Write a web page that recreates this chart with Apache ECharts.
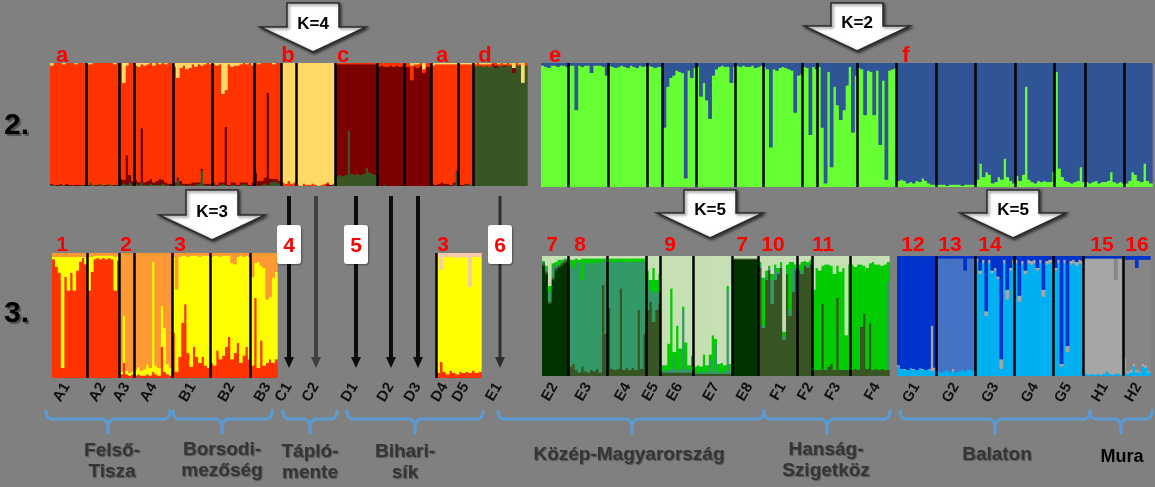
<!DOCTYPE html>
<html><head><meta charset="utf-8">
<script src="https://cdn.jsdelivr.net/npm/echarts@6/dist/echarts.min.js"></script>
<style>html,body{margin:0;padding:0;background:#808080;}#c{width:1155px;height:487px;}</style>
</head><body><div id="c"></div>
<script>
// ================= DATA (ancestry proportions, % per individual) =================
// ---- Row 2, K=4 panel ----
const r2k4Pops  = ['A1','A2','A3','A4','B1','B2','B3','C1','C2','D1','D2','D3','D4','D5','E1'];
const r2k4Sizes = [12,11,5,13,13,14,9,5,13,14,9,9,9,5,18];
const r2k4Green = [
 1,1,0,1,1,0,0,1,0,0,1,0,  0,3,1,0,2,1,0,2,1,0,1,  1,2,1,3,1,  2,1,3,1,1,2,1,1,1,2,1,1,0,
 1,5,1,1,0,1,0,1,2,12,1,0,1,  1,0,1,2,1,0,1,1,0,1,2,1,0,1,  1,0,1,2,1,3,4,3,2,
 0,0,0,0,0,  0,0,0,0,0,0,0,0,0,0,0,0,1,  8,9,8,9,45,10,9,10,9,10,15,11,10,9,
 0,0,1,0,0,0,0,0,0,  0,0,0,0,0,0,0,0,0,  0,0,0,0,0,0,0,1,11,  0,0,1,2,1,
 97,98,98,97,98,97,98,96,98,98,97,98,98,92,98,98,84,98];
const r2k4Maroon = [
 1,0,1,1,0,2,1,0,1,1,0,1,  1,0,0,1,0,0,1,0,0,1,0,  5,3,24,6,3,  3,2,44,2,3,4,2,3,5,3,2,1,2,
 2,2,3,1,2,1,3,2,1,2,1,2,1,  2,1,2,1,47,1,2,2,1,2,1,2,1,2,  10,4,3,5,75,3,2,3,2,
 0,0,0,0,0,  0,0,0,0,0,0,0,0,0,0,2,1,0,  91,90,91,90,54,89,90,89,90,89,84,88,89,90,
 97,98,96,97,98,97,98,97,98,  97,97,86,97,96,98,92,97,97,  2,1,2,3,2,2,1,2,1,  1,1,1,0,0,
 0,0,0,0,0,0,1,2,0,0,1,0,0,4,0,0,0,0];
const r2k4Red = [
 96,99,99,98,98,98,99,99,98,99,99,99,  98,96,99,99,98,99,99,98,99,98,99,  94,79,73,91,96,
 93,94,52,95,95,94,95,96,93,95,96,98,98,  94,81,92,96,93,94,96,94,96,84,97,98,97,
 96,97,96,72,30,98,94,95,97,96,97,96,99,95,  89,95,96,93,24,94,93,94,96,
 3,2,4,2,3,  1,0,2,1,1,2,1,0,1,2,1,0,1,  1,1,1,1,1,1,1,1,1,1,1,1,1,1,
 3,2,3,3,2,3,2,3,2,  3,3,12,2,3,2,3,3,3,  96,98,97,96,97,97,98,96,87,  98,98,97,97,98,
 2,2,1,2,1,2,1,2,1,2,1,2,1,0,2,1,0,2];
const r2k4Yellow = [
 2,0,0,0,1,0,0,0,1,0,0,0,  1,1,0,0,0,0,0,0,0,1,0,  0,16,2,0,0,  2,3,1,2,1,0,2,0,1,0,1,0,0,
 3,12,4,2,5,4,1,3,1,2,1,0,1,  1,2,1,25,22,1,3,2,2,1,0,1,0,2,  0,1,0,0,0,0,1,0,0,
 97,98,96,98,97,  99,100,98,99,99,98,99,100,99,98,97,99,98,  0,0,0,0,0,0,0,0,0,0,0,0,0,0,
 0,0,0,0,0,0,0,0,0,  0,0,2,1,1,0,5,0,0,  2,1,1,1,1,1,1,1,1,  1,1,1,1,1,
 1,0,1,1,1,1,0,0,1,0,1,0,1,4,0,1,16,0];

// ---- Row 2, K=2 panel ----
const r2k2Pops  = ['E2','E3','E4','E5','E6','E7','E8','F1','F2','F3','F4','G1','G2','G3','G4','G5','H1','H2'];
const r2k2Sizes = [9,13,13,5,11,13,9,13,5,13,13,13,13,13,13,10,13,9];
const r2k2Green = [
 98,97,96,98,98,97,98,98,97,  98,98,62,98,97,98,98,92,98,98,98,97,90,  98,97,96,97,98,97,96,98,97,96,98,97,98,
 98,97,96,97,97,  48,81,88,90,94,93,92,7,94,88,96,  97,73,84,70,55,90,95,97,98,97,97,84,97,
 98,97,98,97,97,98,96,97,98,  97,95,32,95,94,96,97,96,95,94,60,90,91,  97,96,42,97,95,
 97,48,3,93,16,81,66,54,62,82,97,44,90,  96,95,58,94,93,58,94,34,86,6,94,95,96,
 5,6,5,3,4,3,5,4,7,5,3,2,2,  2,2,2,1,2,2,2,2,1,2,2,2,2,  6,19,8,12,10,3,4,8,6,23,8,5,3,
 9,5,10,81,6,4,3,5,4,5,4,4,12,  93,15,8,5,4,3,4,5,16,4,  4,3,4,5,3,4,4,5,12,4,3,4,3,
 3,5,12,10,5,4,19,5,3];
const r2k2Blue = [
 2,3,4,2,2,3,2,2,3,  2,2,38,2,3,2,2,8,2,2,2,3,10,  2,3,4,3,2,3,4,2,3,4,2,3,2,
 2,3,4,3,3,  52,19,12,10,6,7,8,93,6,12,4,  3,27,16,30,45,10,5,3,2,3,3,16,3,
 2,3,2,3,3,2,4,3,2,  3,5,68,5,6,4,3,4,5,6,40,10,9,  3,4,58,3,5,
 3,52,97,7,84,19,34,46,38,18,3,56,10,  4,5,42,6,7,42,6,66,14,94,6,5,4,
 95,94,95,97,96,97,95,96,93,95,97,98,98,  98,98,98,99,98,98,98,98,99,98,98,98,98,  94,81,92,88,90,97,96,92,94,77,92,95,97,
 91,95,90,19,94,96,97,95,96,95,96,96,88,  7,85,92,95,96,97,96,95,84,96,  96,97,96,95,97,96,96,95,88,96,97,96,97,
 97,95,88,90,95,96,81,95,97];

// ---- Row 3, K=3 panel ----
const r3k3Pops  = ['A1','A2','A3','A4','B1','B2','B3'];
const r3k3Sizes = [12,11,5,13,13,14,9];
const r3k3Red = [
 95,89,84,8,81,70,84,70,86,93,96,91,  70,85,95,96,95,96,95,96,95,70,94,  3,12,3,2,3,
 2,3,2,2,3,2,5,3,2,25,5,3,2,  36,5,17,44,59,20,9,25,17,12,17,10,8,
 12,10,22,15,18,25,33,15,20,28,12,18,25,15,  10,64,8,30,10,12,15,12,15];
const r3k3Yellow = [
 2,8,13,89,16,27,13,27,11,4,1,6,  27,12,3,2,3,2,3,2,3,27,4,  2,38,3,2,2,
 5,6,4,5,8,6,88,7,6,33,35,8,6,  61,66,80,54,39,77,89,73,81,85,81,88,90,
 85,88,76,82,80,73,65,77,71,69,86,79,73,82,  71,28,85,60,78,51,50,68,70];
const r3k3Orange = [
 3,3,3,3,3,3,3,3,3,3,3,3,  3,3,2,2,2,2,2,2,2,3,2,  95,50,94,96,95,
 93,91,94,93,89,92,7,90,92,42,60,89,92,  3,29,3,2,2,3,2,2,2,3,2,2,2,
 3,2,2,3,2,2,2,8,9,3,2,3,2,3,  19,8,7,10,12,37,35,20,15];

// ---- Row 3, D4/D5 panel ----
const r3dPops  = ['D4','D5'];
const r3dSizes = [9,5];
const r3dRed    = [4,13,5,3,6,4,3,5,4,  5,4,6,4,5];
const r3dYellow = [93,74,92,94,91,93,93,92,93,  91,69,91,93,92];
const r3dPeach  = [3,13,3,3,3,3,4,3,3,  4,27,3,3,3];

// ---- Row 3, K=5 green panel ----
const r3gPops  = ['E2','E3','E4','E5','E6','E7','E8','F1','F2','F3','F4'];
const r3gSizes = [9,13,13,5,11,13,9,13,5,13,13];
const r3gDark = [
 92,85,60,80,88,90,92,94,95,  0,0,0,0,0,0,0,0,0,0,0,0,0,  0,0,0,0,0,0,0,0,0,0,0,0,0,  0,0,0,0,0,
 0,0,0,0,0,0,0,0,0,0,0,  0,0,0,0,0,0,0,0,0,0,0,0,0,  97,97,97,97,97,97,97,97,97,
 0,0,0,0,0,0,0,0,0,0,0,0,0,  0,0,0,0,0,  0,0,0,0,0,0,0,0,0,0,0,0,0,  0,0,0,0,0,0,0,0,0,0,0,0,0];
const r3gOlive = [
 2,2,2,2,2,2,2,2,2,  8,10,5,3,8,4,3,5,4,6,3,76,35,  57,6,5,6,73,5,7,5,7,5,55,6,35,  55,62,45,55,60,
 3,3,3,3,3,3,3,3,3,3,3,  2,2,2,2,2,2,2,2,2,2,2,2,2,  1,1,1,1,1,1,1,1,1,
 90,40,80,88,60,80,85,90,30,85,50,70,88,  88,85,92,90,93,
 5,5,5,60,5,8,10,5,65,5,5,5,5,  5,6,5,41,52,6,44,5,6,5,6,5,5];
const r3gMid = [
 1,2,8,10,2,1,1,1,1,  85,80,90,92,72,90,92,88,91,88,92,20,60,  38,89,90,89,22,90,88,90,88,90,40,89,60,  25,10,25,15,10,
 1,2,2,3,13,2,3,52,3,2,2,  1,1,2,1,2,12,2,25,2,1,2,70,2,  0,0,0,0,0,0,0,0,0,
 2,2,3,2,20,10,2,2,4,3,5,20,2,  2,3,2,2,2,
 0,0,0,0,0,0,0,0,0,0,0,0,0,  0,0,0,0,0,0,0,0,0,0,0,0,74];
const r3gBright = [
 1,3,5,2,3,4,2,1,0,  4,7,3,2,18,4,3,5,3,4,3,2,3,  3,3,3,3,3,3,3,3,3,3,3,3,3,  8,8,20,10,15,
 5,4,22,67,4,37,17,3,22,4,12,  5,6,4,15,5,4,30,4,6,8,5,3,6,  0,0,0,0,0,0,0,0,0,
 3,40,5,2,5,3,3,3,3,5,40,5,3,  3,7,2,3,2,
 67,85,83,32,88,85,82,80,27,82,85,29,88,  88,85,88,52,40,84,50,90,87,88,86,88,16];
const r3gPale = [
 4,8,25,6,5,3,3,2,2,  3,3,2,3,2,2,2,2,2,2,2,2,2,  2,2,2,2,2,2,2,2,2,2,2,2,2,  12,20,10,20,15,
 91,91,73,27,80,58,77,42,72,91,83,  92,91,92,82,91,82,66,69,90,89,91,25,90,  2,2,2,2,2,2,2,2,2,
 5,18,12,8,15,7,10,5,63,7,5,5,7,  7,5,4,5,3,
 28,10,12,8,7,7,8,15,8,13,10,66,7,  7,9,7,7,8,10,6,5,7,7,8,7,5];

// ---- Row 3, K=5 blue panel ----
const r3bPops  = ['G1','G2','G3','G4','G5','H1','H2'];
const r3bSizes = [13,13,13,13,10,13,9];
const r3bSky = [
 8,6,5,5,7,5,5,7,5,5,6,4,5,  4,3,4,5,3,4,3,4,5,4,6,5,4,  95,85,94,50,94,86,88,81,6,94,64,88,94,
 94,62,93,85,94,93,94,88,94,66,93,94,95,  88,94,8,94,20,93,94,92,94,93,
 2,1,2,1,2,1,2,4,2,1,2,2,1,  3,2,3,8,3,3,8,7,3];
const r3bLightGrey = [
 1,0,1,0,0,1,0,0,1,0,0,38,2,  0,0,0,0,0,2,0,0,0,0,0,0,0,  3,3,3,4,3,2,2,2,8,3,8,2,3,
 3,5,3,3,3,3,3,2,3,6,3,3,2,  2,3,2,3,5,3,3,3,3,3,
 96,97,96,97,96,97,96,94,96,97,78,96,97,  12,2,2,2,2,1,2,2,1];
const r3bGrey = [
 0,0,0,0,0,0,0,0,0,0,0,0,0,  0,0,0,0,0,0,0,0,0,0,0,0,0,  0,0,0,0,0,0,0,0,0,0,0,0,0,
 0,0,0,0,0,0,0,0,0,0,0,0,0,  0,0,0,0,0,0,0,0,0,0,
 0,0,0,0,0,0,0,0,0,0,18,0,0,  82,93,92,87,85,93,87,88,93];
const r3bMid = [
 0,0,0,0,0,0,0,0,0,0,0,0,0,  94,95,94,93,95,92,95,94,93,84,92,93,94,  0,0,0,0,0,0,0,0,0,0,0,0,0,
 0,0,0,0,0,0,0,0,0,0,0,0,0,  0,0,0,0,0,0,0,0,0,0,
 0,0,0,0,0,0,0,0,0,0,0,0,0,  0,0,0,0,0,0,0,0,0];
const r3bDark = [
 91,94,94,95,93,94,95,93,94,95,94,58,93,  2,2,2,2,2,2,2,2,2,12,2,2,2,  2,12,3,46,3,12,10,17,86,3,28,10,3,
 3,33,4,12,3,4,3,10,3,28,4,3,3,  10,3,90,3,75,4,3,5,3,4,
 2,2,2,2,2,2,2,2,2,2,2,2,2,  3,3,3,3,10,3,3,3,3];

// ---- Annotation texts ----
const regionLabels = [
 ['Felső-\nTisza',112,461],['Borsodi-\nmezőség',222,460],['Tápló-\nmente',310,462],['Bihari-\nsík',405,462],
 ['Közép-Magyarország',629,455],['Hanság-\nSzigetköz',826,460],['Balaton',997,455]];
const muraLabel = ['Mura',1122,457];
const bracketSpans = [[46,170,108],[173,272,222],[283,337,310],[347,483,415],[498,764,632],[764,890,827],[900,1090,995],[1090,1152,1121]];
const kArrows = [['K=4',313,3,27,52],['K=2',857,3,26,51],['K=3',212,190,215,240],['K=5',710,190,213,238],['K=5',1013,190,213,238]];
const redTop = [['a',62],['b',288],['c',343],['a',442],['d',485],['e',555],['f',906]];
const redRow3 = [['1',62],['2',126],['3',180],['3',443],['7',552],['8',580],['9',670],['7',742],['10',773],['11',823],['12',913],['13',950],['14',990],['15',1102],['16',1137]];
const arrowPops = [['C1','#0d0d0d',4,'4'],['C2','#3f3f3f',4,null],['D1','#0d0d0d',4,'5'],['D2','#0d0d0d',4,null],['D3','#0d0d0d',4,null],['E1','#2e2e2e',3,'6']];

// ================= CHART =================
function cats(pops, sizes){const o=[];pops.forEach((p,i)=>{for(let k=1;k<=sizes[i];k++)o.push(p+'_'+k);});return o;}
function starts(sizes){const s=new Set();let c=0;sizes.forEach(n=>{s.add(c);c+=n;});return s;}
function mids(sizes){const s=new Set();let c=0;sizes.forEach(n=>{s.add(c+Math.floor((n-1)/2));c+=n;});return s;}

const panels = [
 {grid:{left:50,top:63,width:477,height:123}, pops:r2k4Pops, sizes:r2k4Sizes,
  ser:[[r2k4Green,'#375623'],[r2k4Maroon,'#7B0000'],[r2k4Red,'#FF3300'],[r2k4Yellow,'#FFD966']], labels:true, offset:194},
 {grid:{left:541,top:63,width:611,height:124}, pops:r2k2Pops, sizes:r2k2Sizes,
  ser:[[r2k2Green,'#66FF33'],[r2k2Blue,'#2F5597']], labels:true, offset:193},
 {grid:{left:52,top:253,width:225,height:125}, pops:r3k3Pops, sizes:r3k3Sizes,
  ser:[[r3k3Red,'#FF3300'],[r3k3Yellow,'#FFFF00'],[r3k3Orange,'#FF9933']]},
 {grid:{left:436,top:253,width:45,height:125}, pops:r3dPops, sizes:r3dSizes,
  ser:[[r3dRed,'#FF3300'],[r3dYellow,'#FFFF00'],[r3dPeach,'#F8CBAD']]},
 {grid:{left:542,top:256,width:347,height:120}, pops:r3gPops, sizes:r3gSizes,
  ser:[[r3gDark,'#003300'],[r3gOlive,'#375623'],[r3gMid,'#339966'],[r3gBright,'#00CC00'],[r3gPale,'#C6E0B4']]},
 {grid:{left:897,top:256,width:253,height:120}, pops:r3bPops, sizes:r3bSizes,
  ser:[[r3bSky,'#00B0F0'],[r3bLightGrey,'#A6A6A6'],[r3bGrey,'#868686'],[r3bMid,'#4472C4'],[r3bDark,'#0033CC']]}
];

const chart = echarts.init(document.getElementById('c'), null, {renderer:'canvas', width:1155, height:487});
const opt = {backgroundColor:'#808080', animation:false, grid:[], xAxis:[], yAxis:[], series:[]};
panels.forEach((p,gi)=>{
  opt.grid.push(Object.assign({containLabel:false}, p.grid));
  const st=starts(p.sizes), md=mids(p.sizes);
  opt.xAxis.push({gridIndex:gi, type:'category', data:cats(p.pops,p.sizes), z:5, boundaryGap:true, offset:p.offset||0,
    axisLine:{show:false}, axisTick:{show:false},
    axisLabel: p.labels ? {show:true, interval:(i)=>md.has(i), formatter:(v)=>v.split('_')[0], rotate:60, margin:4,
       fontSize:15, fontWeight:'bold', color:'#111', fontFamily:'Liberation Sans'} : {show:false},
    splitLine:{show:true, interval:(i)=>i>0&&st.has(i), showMaxLine:false, lineStyle:{color:'#000', width:2.5}}});
  opt.yAxis.push({gridIndex:gi, type:'value', min:0, max:100, show:false});
  p.ser.forEach(([arr,color])=>{
    opt.series.push({type:'bar', xAxisIndex:gi, yAxisIndex:gi, stack:'p'+gi, barCategoryGap:'0%', barGap:'0%',
      data:arr.map(v=>v===0?null:v), silent:true,
      // same-colour hard shadow shifted half a pixel closes anti-aliasing seams between adjacent bars
      itemStyle:{color:color, borderWidth:0, shadowColor:color, shadowBlur:0, shadowOffsetX:0.7, shadowOffsetY:0}});
  });
});
chart.setOption(opt);

// ---------- annotations ----------
const g = [];
const txt = (t,x,y,st,z)=>g.push({type:'text', z:z||100, x:x, y:y, style:Object.assign({text:t, fontFamily:'Liberation Sans', fontWeight:'bold', align:'center', verticalAlign:'middle'}, st)});
txt('2.',4,126,{fontSize:30, fill:'#000', align:'left', textShadowColor:'rgba(0,0,0,0.4)', textShadowOffsetX:2, textShadowOffsetY:2, textShadowBlur:1});
txt('3.',4,314,{fontSize:30, fill:'#000', align:'left', textShadowColor:'rgba(0,0,0,0.4)', textShadowOffsetX:2, textShadowOffsetY:2, textShadowBlur:1});

kArrows.forEach(([t,cx,top,bb,tip])=>{
  const bw=26, tw=53;
  g.push({type:'polygon', z:100, shape:{points:[[cx-bw,top],[cx+bw,top],[cx+bw,bb],[cx+tw,bb],[cx,tip],[cx-tw,bb],[cx-bw,bb]]},
    style:{fill:'#fff', stroke:'#2b2b2b', lineWidth:1.5, shadowBlur:3, shadowColor:'rgba(0,0,0,0.6)', shadowOffsetX:1.5, shadowOffsetY:1.5}});
  txt(t,cx,bb-3,{fontSize:17, fill:'#000'},101);
});
redTop.forEach(([t,x])=>txt(t,x,67,{fontSize:22, fill:'#FF0000', verticalAlign:'bottom'}));
redRow3.forEach(([t,x])=>txt(t,x,256,{fontSize:21, fill:'#FF0000', verticalAlign:'bottom'}));

function popX(pop){
  const i=r2k4Pops.indexOf(pop);
  const a=chart.convertToPixel({xAxisIndex:0}, pop+'_1');
  const b=chart.convertToPixel({xAxisIndex:0}, pop+'_'+r2k4Sizes[i]);
  return (a+b)/2;
}
arrowPops.forEach(([pop,col,w,num])=>{
  const x=Math.round(popX(pop));
  g.push({type:'line', z:100, shape:{x1:x,y1:196,x2:x,y2:360}, style:{stroke:col, lineWidth:w}});
  g.push({type:'polygon', z:100, shape:{points:[[x-5,357],[x+5,357],[x,368]]}, style:{fill:col}});
  if(num){
    g.push({type:'rect', z:101, shape:{x:x-12,y:225,width:24,height:39,r:3},
      style:{fill:'#fff', shadowBlur:2, shadowColor:'rgba(0,0,0,0.4)', shadowOffsetX:1, shadowOffsetY:1}});
    txt(num,x,246,{fontSize:21, fill:'#FF0000'},102);
  }
});
bracketSpans.forEach(([x1,x2,xc])=>{
  const y=419;
  const st={fill:null, stroke:'#5B9BD5', lineWidth:3, lineJoin:'round', lineCap:'round'};
  g.push({type:'polyline', z:100, shape:{points:[[x1,y-8],[x1+0.5,y-4],[x1+2,y-1.5],[x1+5,y],[xc-5,y],[xc-2,y+2],[xc,y+6],[xc,y+14]]}, style:st});
  g.push({type:'polyline', z:100, shape:{points:[[xc,y+6],[xc+2,y+2],[xc+5,y],[x2-5,y],[x2-2,y-1.5],[x2-0.5,y-4],[x2,y-8]]}, style:st});
});
regionLabels.forEach(([t,x,y])=>txt(t,x,y,{fontSize:19, fill:'#353535', lineHeight:21,
  textShadowColor:'rgba(40,40,40,0.5)', textShadowOffsetX:1, textShadowOffsetY:1, textShadowBlur:1}));
txt(muraLabel[0],muraLabel[1],muraLabel[2],{fontSize:18, fill:'#000'});

chart.setOption({graphic:g});
</script></body></html>
